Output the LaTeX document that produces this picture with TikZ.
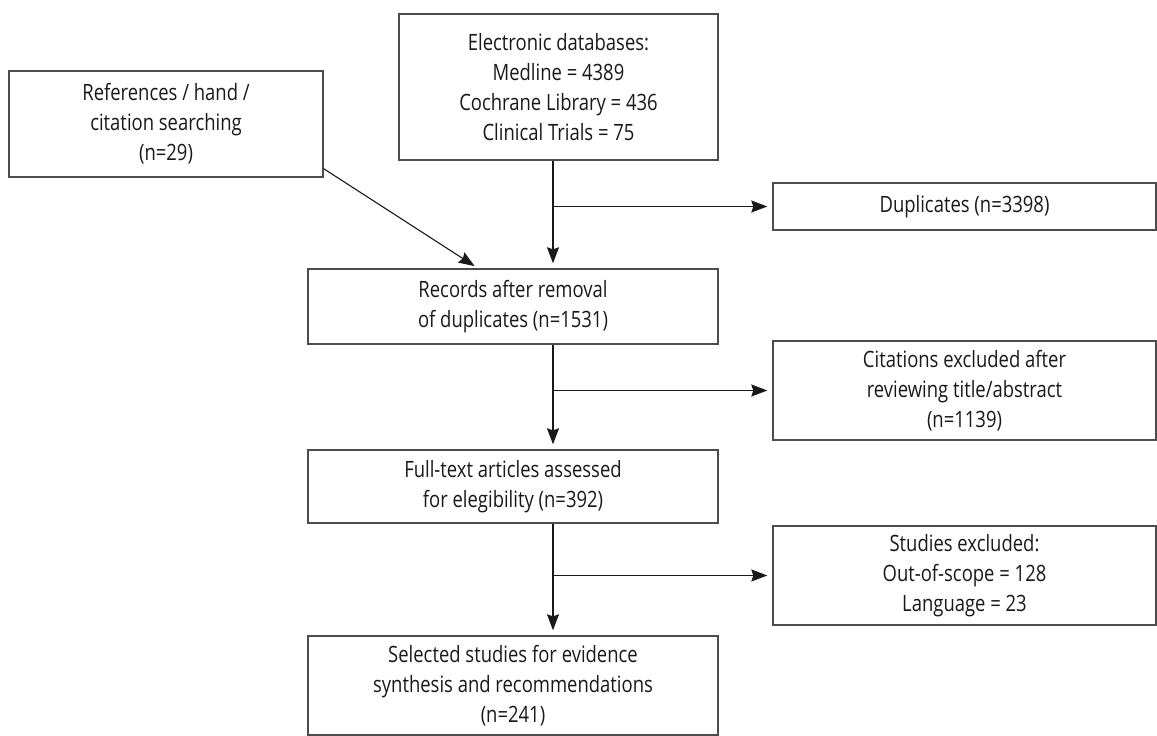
\documentclass[tikz,border=0pt]{standalone}
\usepackage{fontspec}
\setmainfont{Open Sans}[FakeStretch=0.82]
\usetikzlibrary{arrows.meta}

\begin{document}
\begin{tikzpicture}[x=1pt,y=-1pt,
  box/.style={draw=black!70,line width=1.4pt,text=black!90,align=center,inner sep=0pt,
    font=\fontsize{22.5}{30}\selectfont},
  arr/.style={line width=1.1pt,draw=black!90,-{Stealth[length=16pt,width=12pt,inset=2pt]},shorten >=5pt}]
\useasboundingbox (0,0) rectangle (1157,736);

\node[box,minimum width=314pt,minimum height=106pt] (refs) at (166,124) {References / hand /\\citation searching\\(n=29)};
\node[box,minimum width=319pt,minimum height=146pt] (elec) at (558.5,87) {Electronic databases:\\Medline = 4389\\Cochrane Library = 436\\Clinical Trials = 75};
\node[box,minimum width=383pt,minimum height=47pt] (dups) at (964.5,206.5) {Duplicates (n=3398)};
\node[box,minimum width=410pt,minimum height=75pt] (recs) at (513,306.5) {Records after removal\\of duplicates (n=1531)};
\node[box,minimum width=383pt,minimum height=99pt] (cits) at (964.5,390.5) {Citations excluded after\\reviewing title/abstract\\(n=1139)};
\node[box,minimum width=410pt,minimum height=73pt] (full) at (513,486.5) {Full-text articles assessed\\for elegibility (n=392)};
\node[box,minimum width=383pt,minimum height=99pt] (excl) at (964.5,575.5) {Studies excluded:\\Out-of-scope = 128\\Language = 23};
\node[box,minimum width=410pt,minimum height=99pt] (sel) at (513,685.5) {Selected studies for evidence\\synthesis and recommendations\\(n=241)};

\coordinate (main) at (553,0);
\coordinate (refend) at (478,0);

% main flow
\draw[arr] (elec.south -| main) -- (recs.north -| main);
\draw[arr] (recs.south -| main) -- (full.north -| main);
\draw[arr] (full.south -| main) -- (sel.north -| main);

% exclusions
\draw[arr] (main |- dups.west) -- (dups.west);
\draw[arr] (main |- cits.west) -- (cits.west);
\draw[arr] (main |- excl.west) -- (excl.west);

% extra records
\draw[arr,shorten >=4pt] ([yshift=9pt]refs.south east) -- (recs.north -| refend);
\end{tikzpicture}
\end{document}
